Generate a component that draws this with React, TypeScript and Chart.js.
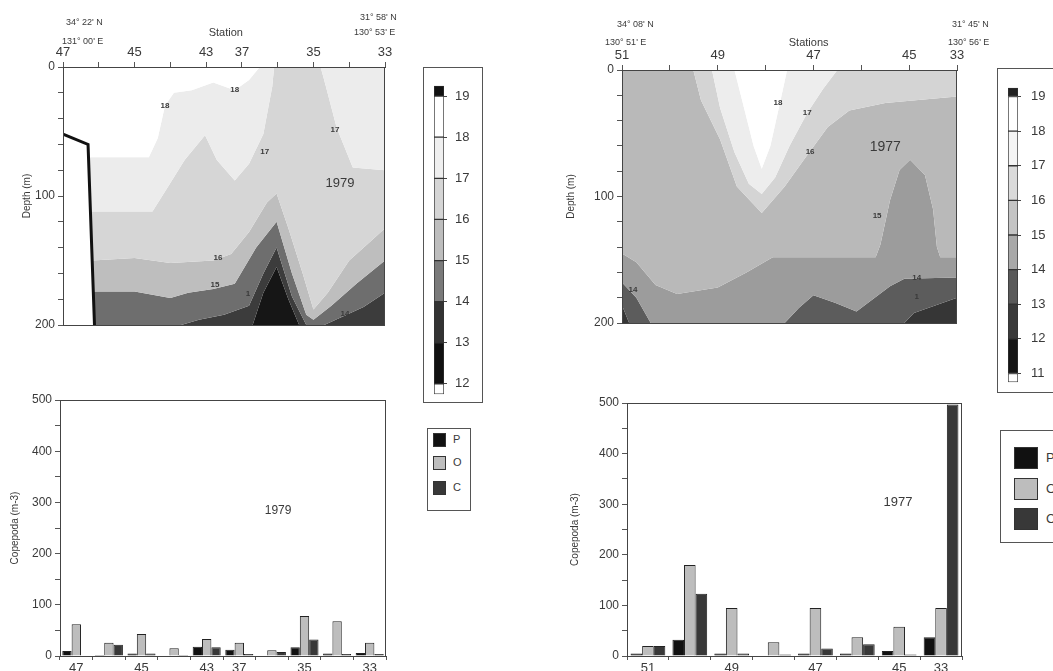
import React, { useEffect, useRef } from 'react';
import { Chart, registerables } from 'chart.js';
Chart.register(...registerables);

const FONT = "'Liberation Sans', Arial, sans-serif";
const TXT = '#3a3a3a';
Chart.defaults.font.family = FONT;
Chart.defaults.color = TXT;

// ---------- 1979 section (stations 47 ... 33) ----------
const STATIONS_79 = ['47', '', '45', '', '43', '37', '', '35', '', '33'];
const DEPTH_LABELS = [0, 100, 200];
// isotherm depths [station position, depth m]
const SURF_79 = [[0, 0], [9, 0]];
const ISO18_79 = [[0, 52], [0.7, 60], [0.71, 70], [2.4, 70], [2.65, 55], [2.85, 30], [3.1, 20], [3.6, 18], [4.2, 12], [4.8, 18], [5.2, 10], [5.5, 0], [9, 0]];
const ISO17_79 = [[0, 52], [0.7, 60], [0.77, 112], [2.5, 112], [3.0, 90], [3.4, 72], [3.97, 53], [4.3, 72], [4.8, 88], [5.2, 75], [5.6, 52], [5.85, 15], [5.9, 0], [7.2, 0], [7.3, 10], [7.65, 47], [8.1, 78], [9, 80]];
const ISO16_79 = [[0, 52], [0.7, 60], [0.82, 150], [2.0, 148], [3.0, 152], [4.2, 150], [4.7, 145], [5.2, 128], [5.7, 105], [5.97, 98], [6.3, 125], [6.7, 160], [7.0, 188], [7.4, 175], [8.0, 150], [8.6, 135], [9, 125]];
const ISO15_79 = [[0, 52], [0.7, 60], [0.85, 174], [2.0, 174], [3.0, 179], [3.5, 175], [4.2, 172], [4.8, 168], [5.4, 140], [5.97, 120], [6.4, 160], [6.8, 192], [7.0, 196], [7.5, 185], [8.2, 168], [9, 150]];
const ISO14_79 = [[0, 52], [0.7, 60], [0.88, 200], [3.3, 200], [3.8, 196], [4.5, 192], [5.2, 185], [5.6, 160], [5.97, 140], [6.4, 178], [6.8, 200], [7.3, 200], [7.7, 195], [8.4, 186], [9, 175]];
const ISO13_79 = [[0, 52], [0.7, 60], [0.88, 200], [5.3, 200], [5.6, 175], [5.97, 155], [6.3, 180], [6.6, 200], [9, 200]];
const BOTTOM_79 = [[0, 52], [0.7, 60], [0.88, 200], [9, 200]];
const FLOOR_79 = [[0, 200], [9, 200]];
const TOPO_79 = [[0, 52], [0.7, 60], [0.88, 200]];
const BAND_COLORS_79 = ['#ffffff', '#ececec', '#d6d6d6', '#bebebe', '#6e6e6e', '#3c3c3c', '#161616'];
const CONTOUR_LABELS_79 = [
  { t: '18', x: 2.85, y: 30 }, { t: '18', x: 4.8, y: 18 }, { t: '17', x: 5.64, y: 66 },
  { t: '17', x: 7.6, y: 49 }, { t: '16', x: 4.33, y: 148 }, { t: '15', x: 4.25, y: 169 },
  { t: '1', x: 5.17, y: 176 }, { t: '14', x: 7.88, y: 191 },
];

// ---------- 1977 section (stations 51 ... 45, 33) ----------
const STATIONS_77 = ['51', '', '49', '', '47', '', '45', '33'];
const SURF_77 = [[0, 0], [7, 0]];
const ISO18_77 = [[0, 0], [2.35, 0], [2.55, 30], [2.75, 60], [2.92, 78], [3.1, 60], [3.3, 26], [3.45, 0], [7, 0]];
const ISO17_77 = [[0, 0], [1.88, 0], [2.05, 30], [2.35, 65], [2.65, 90], [2.92, 98], [3.2, 85], [3.5, 60], [3.87, 34], [4.2, 15], [4.5, 0], [7, 0]];
const ISO16_77 = [[0, 0], [1.49, 0], [1.65, 24], [2.05, 55], [2.4, 92], [2.92, 113], [3.4, 92], [3.8, 71], [4.3, 45], [4.75, 32], [5.5, 26], [7, 21]];
const ISO15_77 = [[0, 145], [0.3, 152], [0.7, 170], [1.15, 177], [2.0, 172], [2.6, 160], [3.15, 148], [5.3, 148], [5.4, 138], [5.6, 103], [5.8, 79], [6.02, 71], [6.33, 83], [6.5, 110], [6.58, 140], [6.65, 148], [7, 148]];
const ISO14_77 = [[0, 168], [0.3, 180], [0.6, 200], [3.4, 200], [3.7, 188], [4.0, 178], [4.45, 184], [4.9, 191], [5.6, 171], [5.9, 165], [7, 164]];
const ISO13_77 = [[0, 186], [0.15, 200], [5.9, 200], [6.1, 192], [7, 180]];
const FLOOR_77 = [[0, 200], [7, 200]];
const BAND_COLORS_77 = ['#ffffff', '#ededed', '#d4d4d4', '#b9b9b9', '#9c9c9c', '#5c5c5c', '#363636'];
const CONTOUR_LABELS_77 = [
  { t: '18', x: 3.26, y: 26 }, { t: '17', x: 3.87, y: 34 }, { t: '16', x: 3.93, y: 65 },
  { t: '15', x: 5.33, y: 115 }, { t: '14', x: 6.16, y: 164 }, { t: '1', x: 6.16, y: 179 }, { t: '14', x: 0.23, y: 174 },
];

// ---------- copepods ----------
const P_79 = [10, 2, 5, 1, 18, 12, 0, 17, 5, 6];
const O_79 = [62, 26, 43, 15, 33, 26, 11, 78, 68, 26];
const C_79 = [0, 22, 5, 2, 17, 4, 8, 32, 4, 4];
const P_77 = [5, 32, 5, 0, 5, 5, 10, 37];
const O_77 = [20, 180, 95, 27, 95, 37, 58, 95];
const C_77 = [20, 123, 5, 3, 15, 23, 3, 497];
const GROUP_NAMES = ['P', 'O', 'C'];
const GROUP_COLORS = ['#111111', '#bdbdbd', '#383838'];

// ---------- colour bars ----------
const CB_TICKS_79 = [12, 13, 14, 15, 16, 17, 18, 19];
const CB_BANDS_79 = [[11.75, 12], [12, 13], [13, 14], [14, 15], [15, 16], [16, 17], [17, 18], [18, 19], [19, 19.25]];
const CB_COLORS_79 = ['#ffffff', '#111111', '#333333', '#7a7a7a', '#bdbdbd', '#d5d5d5', '#efefef', '#ffffff', '#111111'];
const CB_TICKS_77 = [11, 12, 13, 14, 15, 16, 17, 18, 19];
const CB_BANDS_77 = [[10.75, 11], [11, 12], [12, 13], [13, 14], [14, 15], [15, 16], [16, 17], [17, 18], [18, 19], [19, 19.25]];
const CB_COLORS_77 = ['#ffffff', '#151515', '#3a3a3a', '#5a5a5a', '#a8a8a8', '#c4c4c4', '#dadada', '#f4f4f4', '#ffffff', '#222222'];

type Item = { text: string; x?: number; y?: number; px?: number; py?: number; font: string; align?: CanvasTextAlign; color?: string };

const textPlugin = (items: Item[]) => ({
  id: 'texts',
  afterDraw(chart: any) {
    const { ctx, scales } = chart;
    ctx.save();
    items.forEach((it) => {
      const x = it.px ?? scales.x.getPixelForValue(it.x);
      const y = it.py ?? scales.y.getPixelForValue(it.y);
      ctx.font = it.font;
      ctx.fillStyle = it.color ?? TXT;
      ctx.textAlign = it.align ?? 'center';
      ctx.textBaseline = 'middle';
      ctx.fillText(it.text, x, y);
    });
    ctx.restore();
  },
});

const framePlugin = {
  id: 'frame',
  afterDatasetsDraw(chart: any) {
    const { ctx, chartArea: a } = chart;
    ctx.save();
    ctx.strokeStyle = '#444';
    ctx.lineWidth = 1;
    ctx.strokeRect(Math.round(a.left) + 0.5, Math.round(a.top) + 0.5, Math.round(a.right - a.left) - 1, Math.round(a.bottom - a.top));
    ctx.restore();
  },
};

function contourConfig(opts: {
  lines: number[][][]; colors: string[]; extra: any[]; xmax: number; stations: string[];
  yWidth: number; xHeight: number; padding: any; title: number; labels: Item[];
}) {
  const datasets: any[] = opts.lines.map((pts, i) => ({
    data: pts.map(([x, y]) => ({ x, y })),
    borderWidth: 0,
    pointRadius: 0,
    tension: 0,
    fill: i === 0 ? false : '-1',
    backgroundColor: i === 0 ? 'rgba(0,0,0,0)' : opts.colors[i - 1],
  }));
  opts.extra.forEach((d) => datasets.push(d));
  return {
    type: 'line',
    data: { datasets },
    options: {
      animation: false,
      responsive: false,
      events: [],
      layout: { padding: opts.padding },
      plugins: { legend: { display: false }, tooltip: { enabled: false } },
      scales: {
        x: {
          type: 'linear', position: 'top', min: 0, max: opts.xmax,
          ticks: {
            stepSize: 1, autoSkip: false, maxRotation: 0, padding: 2,
            font: { size: 13 }, color: TXT,
            callback: (v: number) => opts.stations[v] ?? '',
          },
          grid: { drawOnChartArea: false, tickLength: 5, color: '#555' },
          border: { color: '#444' },
          afterFit: (s: any) => { s.height = opts.xHeight; },
        },
        y: {
          type: 'linear', reverse: true, min: 0, max: 200,
          ticks: {
            stepSize: 20, autoSkip: false, padding: 3, font: { size: 12 }, color: TXT,
            callback: (v: number) => (DEPTH_LABELS.includes(v) ? String(v) : ''),
          },
          grid: { drawOnChartArea: false, tickLength: 5, color: '#555' },
          border: { color: '#444' },
          title: { display: true, text: 'Depth (m)', font: { size: 10 }, color: TXT, padding: { top: opts.title, bottom: 0 } },
          afterFit: (s: any) => { s.width = opts.yWidth; },
        },
      },
    },
    plugins: [framePlugin, textPlugin(opts.labels)],
  };
}

function barConfig(opts: { labels: string[]; values: number[][]; yWidth: number; padding: any; cat: number; title: number; texts: Item[] }) {
  return {
    type: 'bar',
    data: {
      labels: opts.labels,
      datasets: opts.values.map((vals, i) => ({
        label: GROUP_NAMES[i], data: vals, backgroundColor: GROUP_COLORS[i],
        borderColor: '#222', borderWidth: 1,
      })),
    },
    options: {
      animation: false,
      responsive: false,
      events: [],
      layout: { padding: opts.padding },
      datasets: { bar: { categoryPercentage: opts.cat, barPercentage: 1 } },
      plugins: { legend: { display: false }, tooltip: { enabled: false } },
      scales: {
        x: {
          grid: { offset: true, drawOnChartArea: false, tickLength: 4, color: '#555' },
          border: { color: '#444' },
          ticks: { padding: 1, autoSkip: false, maxRotation: 0, font: { size: 13 }, color: TXT },
          afterFit: (s: any) => { s.height = 15; },
        },
        y: {
          min: 0, max: 500,
          ticks: { stepSize: 50, padding: 3, font: { size: 12 }, color: TXT, callback: (v: number) => (v % 100 === 0 ? String(v) : '') },
          grid: { drawOnChartArea: false, tickLength: 5, color: '#555' },
          border: { color: '#444' },
          title: { display: true, text: 'Copepoda (m-3)', font: { size: 10 }, color: TXT, padding: { top: opts.title, bottom: 0 } },
          afterFit: (s: any) => { s.width = opts.yWidth; },
        },
      },
    },
    plugins: [framePlugin, textPlugin(opts.texts)],
  };
}

function colorbarConfig(bands: number[][], colors: string[], ticks: number[], padding: any, labelPad: number) {
  return {
    type: 'bar',
    data: {
      labels: [''],
      datasets: bands.map((b, i) => ({
        data: [b], backgroundColor: colors[i], borderColor: '#333', borderWidth: 1,
        borderSkipped: false, grouped: false, barPercentage: 1, categoryPercentage: 1,
      })),
    },
    options: {
      animation: false,
      responsive: false,
      events: [],
      layout: { padding },
      plugins: { legend: { display: false }, tooltip: { enabled: false } },
      scales: {
        x: { display: false },
        y: {
          position: 'right', min: bands[0][0], max: bands[bands.length - 1][1],
          afterBuildTicks: (s: any) => { s.ticks = ticks.map((v) => ({ value: v })); },
          ticks: { padding: labelPad, font: { size: 13 }, color: TXT },
          grid: { drawOnChartArea: false, tickLength: 3, color: '#444' },
          border: { display: false },
          afterFit: (s: any) => { s.width = 40; },
        },
      },
    },
  };
}

function ChartBox({ left, top, width, height, make }: { left: number; top: number; width: number; height: number; make: () => any }) {
  const ref = useRef<HTMLCanvasElement>(null);
  useEffect(() => {
    const c = new Chart(ref.current as HTMLCanvasElement, make());
    return () => c.destroy();
  }, []);
  return (
    <div style={{ position: 'absolute', left, top, width, height }}>
      <canvas ref={ref} width={width} height={height} style={{ display: 'block', width, height }} />
    </div>
  );
}

const f = (px: number, w = 'normal') => `${w} ${px}px ${FONT}`;

function Legend({ left, top, width, height, sw, rows, fontSize, textLeft }: any) {
  return (
    <div style={{ position: 'absolute', left, top, width, height, border: '1px solid #555', boxSizing: 'border-box', background: '#fff' }}>
      {GROUP_NAMES.map((n, i) => (
        <React.Fragment key={n}>
          <div style={{ position: 'absolute', left: sw.left, top: rows[i], width: sw.w, height: sw.h, background: GROUP_COLORS[i], border: '1px solid #333', boxSizing: 'border-box' }} />
          <div style={{ position: 'absolute', left: textLeft, top: rows[i] + sw.h / 2 - fontSize * 0.6, fontFamily: FONT, fontSize, color: TXT, lineHeight: `${fontSize * 1.2}px` }}>{n}</div>
        </React.Fragment>
      ))}
    </div>
  );
}

export default function App() {
  return (
    <div style={{ position: 'absolute', left: 0, top: 0, width: 1053, height: 671, overflow: 'hidden', background: '#fff' }}>
      {/* 1979 section */}
      <ChartBox left={0} top={0} width={410} height={340} make={() => contourConfig({
        lines: [SURF_79, ISO18_79, ISO17_79, ISO16_79, ISO15_79, ISO14_79, ISO13_79, BOTTOM_79],
        colors: BAND_COLORS_79,
        extra: [
          { data: FLOOR_79.map(([x, y]) => ({ x, y })), borderWidth: 0, pointRadius: 0, fill: '-1', backgroundColor: '#ffffff' },
          { data: TOPO_79.map(([x, y]) => ({ x, y })), borderWidth: 3, borderColor: '#111', pointRadius: 0, fill: false, order: -1 },
        ],
        xmax: 9, stations: STATIONS_79, yWidth: 63, xHeight: 67,
        padding: { left: 0, right: 25, top: 0, bottom: 15 }, title: 21,
        labels: [
          ...CONTOUR_LABELS_79.map((l) => ({ text: l.t, x: l.x, y: l.y, font: f(8, 'bold') })),
          { text: '1979', x: 7.74, y: 90, font: f(13) },
          { text: "34° 22' N", px: 66, py: 23, font: f(9), align: 'left' as CanvasTextAlign },
          { text: "131° 00' E", px: 62, py: 42, font: f(9), align: 'left' as CanvasTextAlign },
          { text: 'Station', x: 4.55, py: 33, font: f(11) },
          { text: "31° 58' N", px: 360, py: 18, font: f(9), align: 'left' as CanvasTextAlign },
          { text: "130° 53' E", px: 354, py: 33, font: f(9), align: 'left' as CanvasTextAlign },
        ],
      })} />
      {/* 1977 section */}
      <ChartBox left={560} top={0} width={410} height={340} make={() => contourConfig({
        lines: [SURF_77, ISO18_77, ISO17_77, ISO16_77, ISO15_77, ISO14_77, ISO13_77, FLOOR_77],
        colors: BAND_COLORS_77,
        extra: [],
        xmax: 7, stations: STATIONS_77, yWidth: 62, xHeight: 70,
        padding: { left: 0, right: 13, top: 0, bottom: 17 }, title: 5,
        labels: [
          ...CONTOUR_LABELS_77.map((l) => ({ text: l.t, x: l.x, y: l.y, font: f(8, 'bold') })),
          { text: '1977', x: 5.5, y: 61, font: f(14) },
          { text: "34° 08' N", px: 57, py: 25, font: f(9), align: 'left' as CanvasTextAlign },
          { text: "130° 51' E", px: 45, py: 43, font: f(9), align: 'left' as CanvasTextAlign },
          { text: 'Stations', x: 3.9, py: 43, font: f(11) },
        ],
      })} />
      {/* right-hand coordinates of 1977 section */}
      <div style={{ position: 'absolute', left: 952, top: 19, font: f(9), color: TXT, whiteSpace: 'nowrap' }}>31° 45' N</div>
      <div style={{ position: 'absolute', left: 948, top: 37, font: f(9), color: TXT, whiteSpace: 'nowrap' }}>130° 56' E</div>

      {/* copepods */}
      <ChartBox left={0} top={370} width={395} height={301} make={() => barConfig({
        labels: STATIONS_79, values: [P_79, O_79, C_79], yWidth: 60,
        padding: { left: 0, right: 9, top: 30, bottom: 0 }, cat: 0.86, title: 9,
        texts: [{ text: '1979', x: 6.19, y: 283, font: f(12) }],
      })} />
      <ChartBox left={560} top={370} width={420} height={301} make={() => barConfig({
        labels: STATIONS_77, values: [P_77, O_77, C_77], yWidth: 67,
        padding: { left: 0, right: 18, top: 33, bottom: 0 }, cat: 0.83, title: 9,
        texts: [{ text: '1977', x: 5.97, y: 304, font: f(13) }],
      })} />

      {/* colour bars */}
      <div style={{ position: 'absolute', left: 423, top: 67, width: 60, height: 336, border: '1px solid #555', boxSizing: 'border-box' }} />
      <ChartBox left={434} top={70} width={50} height={340} make={() => colorbarConfig(CB_BANDS_79, CB_COLORS_79, CB_TICKS_79, { top: 9.3, bottom: 9.3, left: 0, right: 0 }, 8)} />
      <div style={{ position: 'absolute', left: 997, top: 68, width: 80, height: 325, border: '1px solid #555', boxSizing: 'border-box' }} />
      <ChartBox left={1008} top={70} width={50} height={330} make={() => colorbarConfig(CB_BANDS_77, CB_COLORS_77, CB_TICKS_77, { top: 10.9, bottom: 11, left: 0, right: 0 }, 10)} />

      {/* legends */}
      <Legend left={427} top={428} width={44} height={83} sw={{ left: 5, w: 13, h: 14 }} rows={[4, 27, 52]} fontSize={11} textLeft={25} />
      <Legend left={1000} top={430} width={80} height={113} sw={{ left: 13, w: 24, h: 22 }} rows={[16, 47, 77]} fontSize={13} textLeft={45} />
    </div>
  );
}
